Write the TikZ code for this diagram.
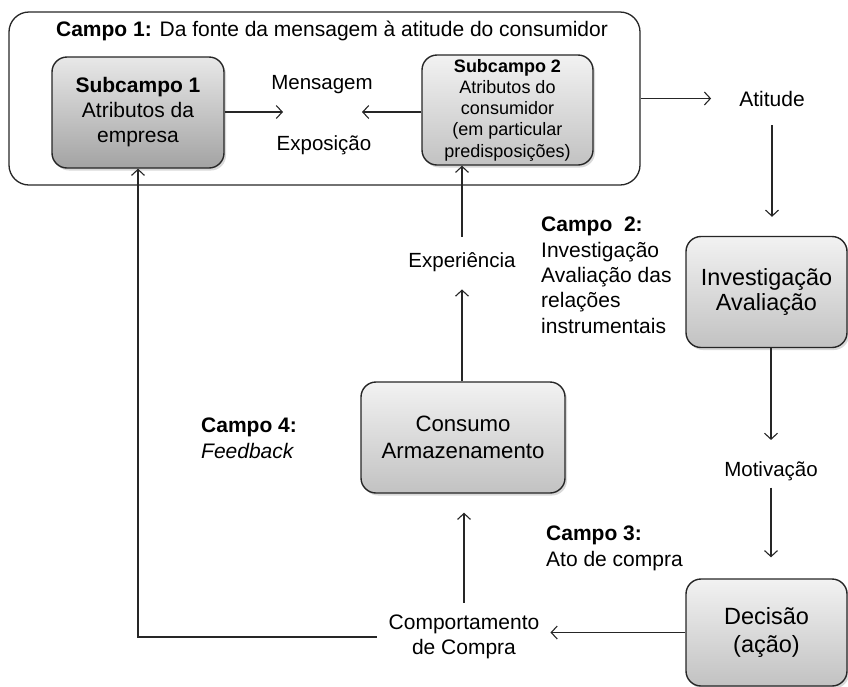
\documentclass[tikz,border=0pt]{standalone}
\usepackage{fontspec}
\setmainfont{Liberation Sans}
\usetikzlibrary{arrows.meta,shadows,calc}
\definecolor{ink}{HTML}{262626}
\definecolor{boxhi}{HTML}{F2F2F2}
\definecolor{boxlo}{HTML}{C2C2C2}
\definecolor{boxhiA}{HTML}{E8E8E8}
\definecolor{boxdark}{HTML}{A3A3A3}
\tikzset{
  arr/.style={-{Straight Barb[length=6pt,width=13pt]}, line width=1.1pt, draw=ink},
  gbox/.style={draw=ink, line width=1.4pt, rounded corners=15pt, align=center, inner sep=0pt,
    top color=boxhi, bottom color=boxlo, drop shadow={shadow xshift=2pt, shadow yshift=-2.5pt, opacity=0.3}},
  txt/.style={inner sep=0pt},
  fA/.style={font=\fontsize{21}{25.3}\selectfont},
  fB/.style={font=\fontsize{20.5}{25}\selectfont},
}
\begin{document}
\begin{tikzpicture}[x=1pt,y=-1pt]
\useasboundingbox (0,0) rectangle (848,686);
% Campo 1 outer box
\node[draw=ink, line width=1.3pt, rounded corners=20pt, minimum width=631pt, minimum height=173pt, inner sep=0pt] (campo1) at (324.5,98.5) {};
\node[txt, fA, anchor=base] (t1) at (332,36) {\textbf{Campo 1:} Da fonte da mensagem à atitude do consumidor};
% Subcampos
\node[gbox, top color=boxhiA, bottom color=boxdark,
  minimum width=172pt, minimum height=111pt, font=\fontsize{21}{25}\selectfont] (sc1) at (138,112.5)
  {\textbf{Subcampo 1}\\Atributos da\\empresa};
\node[gbox, minimum width=171pt, minimum height=110pt, font=\fontsize{18}{21.3}\selectfont] (sc2) at (507.5,110)
  {\textbf{Subcampo 2}\\Atributos do\\consumidor\\(em particular\\predisposições)};
\node[txt, fB, anchor=base] (msg) at (322,89) {Mensagem};
\node[txt, fB, anchor=base] (expo) at (324,150) {Exposição};
\coordinate (mtip1) at (283,112);
\coordinate (mtip2) at (362,112);
\draw[arr] (sc1.east |- mtip1) -- (mtip1);
\draw[arr] (sc2.west |- mtip2) -- (mtip2);
% right column
\node[txt, fA, anchor=base] (atit) at (772,106) {Atitude};
\node[gbox, minimum width=161pt, minimum height=111pt, font=\fontsize{23.4}{25}\selectfont] (inv) at (766.5,292)
  {Investigação\\Avaliação};
\node[txt, fB, anchor=base] (mot) at (771,476) {Motivação};
\node[gbox, minimum width=161pt, minimum height=107pt, font=\fontsize{23.5}{28.5}\selectfont] (dec) at (766.5,632.5)
  {Decisão\\(ação)};
% middle column
\node[txt, fA, align=center] (comp) at (464,637) {Comportamento\\de Compra};
\node[gbox, minimum width=204pt, minimum height=111pt, font=\fontsize{22.2}{27}\selectfont] (cons) at (463,437.5)
  {Consumo\\Armazenamento};
\node[txt, fB, anchor=base] (exper) at (462,267) {Experiência};
% campo labels
\node[txt, fA, align=left, anchor=north west] (c2) at (541,217)
  {\textbf{Campo\ \ 2:}\\Investigação\\Avaliação das\\relações\\instrumentais};
\node[txt, fA, align=left, anchor=north west] (c4) at (201,418)
  {\textbf{Campo 4:}\\\textit{Feedback}};
\node[txt, font=\fontsize{21}{26}\selectfont, align=left, anchor=north west] (c3) at (546,526)
  {\textbf{Campo 3:}\\Ato de compra};
% connectors
\draw[arr] (campo1.east |- atit) -- ($(atit.west)+(-28,0)$);
\draw[arr] ($(atit.south)+(0,19)$) -- ($(atit.south |- inv.north)+(0,-19)$);
\draw[arr] (mot.north |- inv.south) -- ($(mot.north)+(0,-21)$);
\draw[arr] ($(mot.south)+(0,7)$) -- ($(mot.south |- dec.north)+(0,-21)$);
\draw[arr] (dec.west) -- ($(comp.east |- dec.west)+(11,0)$);
\draw[arr] ($(comp.north)+(0,-12)$) -- ($(comp.north |- cons.south)+(0,19)$);
\draw[arr] (exper.south |- cons.north) -- ($(exper.south)+(0,18)$);
\draw[arr] ($(exper.north)+(0,-15)$) -- (exper.north |- sc2.south);
\draw[arr] ($(comp.west)+(-12,0)$) -| (sc1.south);
\end{tikzpicture}
\end{document}
